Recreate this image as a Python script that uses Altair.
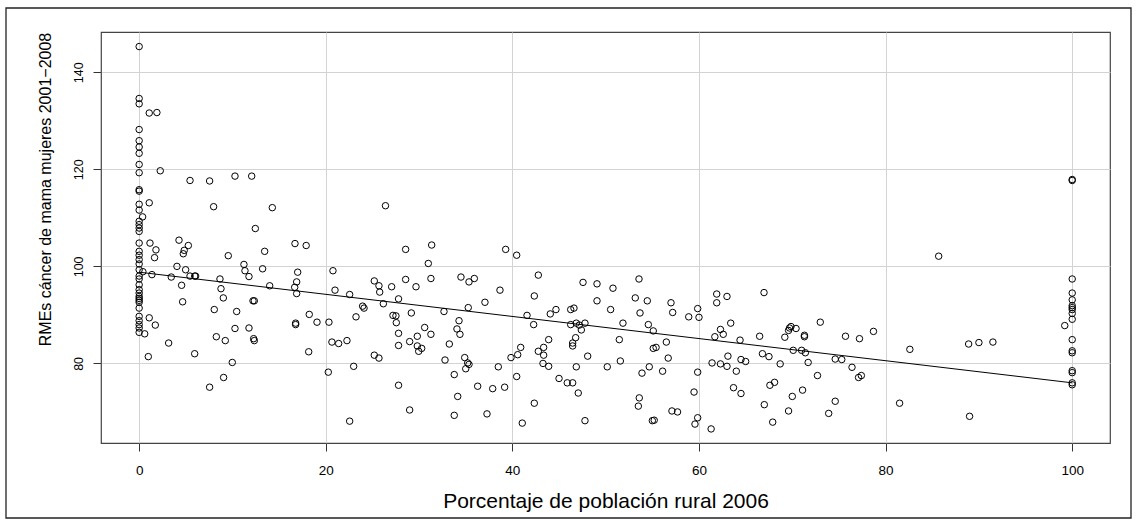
import altair as alt
import pandas as pd

# ---- data ----
# municipalities with 0 % rural population
rme_at_0 = [145.3, 134.6, 133.5, 128.2, 125.9, 124.6, 123.3, 121.0, 119.3, 115.8,
            115.5, 112.8, 111.6, 109.3, 108.6, 107.9, 107.2, 104.8, 103.1, 102.3,
            101.4, 100.5, 99.3, 98.0, 97.4, 96.2, 95.2, 94.5, 93.8, 93.4,
            93.0, 92.6, 91.4, 89.7, 88.8, 88.0, 87.3, 86.4]

# municipalities with 100 % rural population
rme_at_100 = [117.9, 117.7, 97.4, 94.5, 93.1, 91.9, 91.5, 91.1, 90.3, 89.1,
              84.9, 82.6, 82.2, 78.5, 78.1, 76.0, 75.6]

# all other municipalities
pct_mid = [0.37, 0.4, 0.59, 0.98, 1.08, 1.9, 1.08, 1.16, 1.8, 1.65, 1.37, 1.08, 1.73, 2.26, 3.16,
           3.44, 4.05, 4.27, 4.55, 4.66, 4.73, 4.83, 4.98, 5.27, 5.45, 5.45, 5.95, 6.05, 5.95,
           7.55, 7.55, 7.98, 8.05, 8.27, 8.66, 8.77, 9.02, 9.05, 9.23, 9.55, 9.98, 10.27, 10.27,
           10.45, 11.23, 11.34, 11.77, 11.77, 12.06, 12.2, 12.34, 12.27, 12.34, 12.45, 13.23,
           13.45, 13.99, 14.27, 16.67, 16.7, 16.77, 16.77, 16.88, 16.88, 16.99, 17.9, 18.17,
           18.23, 19.06, 20.27, 20.34, 20.66, 20.77, 20.99, 21.38, 22.27, 22.56, 22.56, 22.99,
           23.24, 23.95, 24.1, 25.2, 25.2, 25.7, 25.7, 25.78, 26.17, 26.4, 27.06, 27.2, 27.52,
           27.56, 27.8, 27.8, 27.8, 27.8,
           28.56, 31.35, 30.99, 39.28, 40.46, 28.56, 29.67, 31.27, 34.49, 35.35, 35.92, 38.67,
           37.06, 35.27, 32.67, 34.28, 34.06, 34.38, 31.27, 30.6, 29.17, 28.99, 29.81, 29.81,
           30.28, 29.96, 33.24, 32.78, 34.89, 35.21, 35.35, 35.0, 33.77, 34.14, 33.77, 36.28,
           37.89, 39.17, 37.28, 38.49, 28.99, 39.85, 40.57, 40.89, 40.46, 41.06, 42.35, 42.78,
           42.35, 41.57, 42.28, 42.78, 43.35, 43.35, 43.89, 44.06, 44.67, 43.28, 43.89, 45.0,
           45.88, 46.46, 47.06, 47.78, 46.25, 46.6, 46.25, 46.85, 47.17, 47.39, 47.78, 46.78,
           46.46, 46.46, 46.85, 48.07, 47.57, 49.07, 49.07, 50.53, 50.78, 51.85, 51.46, 50.17,
           51.57, 53.57, 53.17, 53.68, 54.46, 54.57, 55.1, 55.1, 55.4, 54.67, 53.89, 53.6, 53.5,
           55.0, 55.2, 56.1, 56.5, 56.7, 57.0, 57.18, 58.9, 57.1, 57.7, 59.57, 59.86, 59.47,
           59.86, 59.86, 60.0,
           85.69, 88.9, 90.0, 91.5, 82.6, 81.5, 89.0, 78.7, 77.2, 75.7, 73.0, 66.97, 61.9, 63.0,
           61.9, 61.7, 62.3, 62.6, 63.4, 64.4, 66.5, 69.2, 69.6, 69.86, 69.7, 70.4, 71.3, 71.3,
           70.1, 71.0, 71.4, 71.7, 66.8, 67.5, 68.7, 63.1, 64.5, 65.0, 61.4, 62.3, 63.0, 64.0,
           63.7, 64.5, 67.6, 68.1, 67.0, 67.9, 70.0, 71.1, 69.6, 72.7, 74.6, 75.3, 76.4, 77.1,
           77.4, 73.9, 74.6, 61.3, 99.2]

rme_mid = [110.2, 98.9, 86.1, 81.4, 131.6, 131.7, 113.1, 104.8, 103.4, 101.8, 98.3, 89.4, 87.9, 119.7, 84.2,
           97.8, 100.0, 105.4, 96.1, 92.7, 102.6, 103.3, 99.3, 104.3, 117.7, 98.0, 98.0, 98.0, 82.0,
           117.6, 75.1, 112.3, 91.1, 85.5, 97.4, 95.4, 93.5, 77.1, 84.7, 102.2, 80.2, 118.6, 87.2,
           90.7, 100.4, 99.1, 97.9, 87.3, 118.6, 92.9, 92.9, 85.1, 84.7, 107.8, 99.5,
           103.1, 96.0, 112.1, 95.7, 104.7, 88.3, 88.0, 96.8, 94.4, 98.8, 104.3, 82.4,
           90.1, 88.5, 78.2, 88.5, 84.4, 99.1, 95.1, 84.1, 84.7, 94.2, 68.1, 79.4,
           89.6, 91.8, 91.4, 97.0, 81.7, 96.0, 81.1, 94.7, 92.3, 112.5, 95.8, 89.9, 89.8,
           88.4, 93.3, 86.2, 83.7, 75.5,
           103.5, 104.4, 100.6, 103.5, 102.3, 97.3, 95.8, 97.5, 97.8, 96.8, 97.5, 95.1,
           92.6, 91.5, 90.7, 88.8, 87.1, 86.0, 86.0, 87.4, 90.4, 84.5, 85.6, 83.6,
           83.1, 82.5, 84.0, 80.7, 81.2, 80.1, 79.8, 78.9, 77.7, 73.2, 69.3, 75.3,
           74.8, 75.1, 69.6, 79.3, 70.4, 81.2, 81.8, 83.3, 77.3, 67.7, 71.8, 98.2,
           93.9, 89.9, 88.0, 82.5, 83.3, 81.7, 84.9, 90.2, 91.1, 80.0, 79.4, 76.9,
           76.0, 76.0, 73.9, 68.2, 91.1, 91.4, 88.0, 88.3, 87.9, 86.9, 88.3, 85.3,
           84.2, 83.6, 79.3, 81.5, 96.7, 96.4, 92.9, 91.1, 95.5, 88.3, 84.9, 79.3,
           80.5, 97.4, 93.5, 90.4, 92.9, 88.0, 86.7, 83.1, 83.3, 79.3, 78.0, 72.9, 71.2,
           68.2, 68.3, 78.4, 84.4, 81.1, 92.5, 90.5, 89.6, 70.2, 70.0, 67.5, 68.8, 74.1,
           78.2, 91.3, 89.5,
           102.1, 84.0, 84.3, 84.4, 82.9, 71.8, 69.1, 86.6, 85.1, 85.6, 88.5, 94.6, 94.3, 93.8,
           92.5, 85.5, 87.0, 86.0, 88.3, 84.8, 85.6, 85.4, 86.8, 87.6, 87.3, 87.2, 85.8, 85.5,
           82.7, 82.7, 82.2, 80.2, 82.0, 81.4, 79.9, 81.5, 80.8, 80.4, 80.1, 79.9, 79.4, 78.4,
           75.0, 73.8, 75.5, 76.1, 71.5, 67.9, 73.2, 74.5, 70.2, 77.5, 80.9, 80.8, 79.2, 77.1,
           77.5, 69.7, 72.2, 66.5, 87.8]

# fitted regression line (end points)
fit_pct = [0, 100]
fit_rme = [98.8, 76.0]

x_ticks = [0, 20, 40, 60, 80, 100]
y_ticks = [80, 100, 120, 140]

# ---- build tables ----
pct = [0.0] * len(rme_at_0) + pct_mid + [100.0] * len(rme_at_100)
rme = rme_at_0 + rme_mid + rme_at_100
pts = pd.DataFrame({"pct": pct, "rme": rme})
fit = pd.DataFrame({"pct": fit_pct, "rme": fit_rme})

FONT = "Liberation Sans"
W, H = 1009, 411

x_scale = alt.Scale(domain=[-4.09, 104.05], nice=False, zero=False)
y_scale = alt.Scale(domain=[63.6, 148.3], nice=False, zero=False)

x_axis = alt.Axis(
    values=x_ticks, grid=True, gridColor="#d3d3d3", gridWidth=1,
    domain=False, ticks=True, tickSize=8, tickColor="#333333", tickWidth=1,
    labelFont=FONT, labelFontSize=13.5, labelColor="black", labelPadding=12,
    labelAngle=0,
    title="Porcentaje de población rural 2006", titleFont=FONT, titleFontSize=21,
    titleFontWeight="normal", titleColor="black",
    titleX=W / 2, titleY=64, titleAlign="center", titleBaseline="alphabetic",
)
y_axis = alt.Axis(
    values=y_ticks, grid=True, gridColor="#d3d3d3", gridWidth=1,
    domain=False, ticks=True, tickSize=8, tickColor="#333333", tickWidth=1,
    labelFont=FONT, labelFontSize=12.5, labelColor="black", labelPadding=11,
    labelAngle=270, labelAlign="center", labelBaseline="alphabetic",
    title="RMEs cáncer de mama mujeres 2001\u22122008", titleFont=FONT, titleFontSize=16,
    titleFontWeight="normal", titleColor="black", titleAngle=270,
    titleX=-51, titleY=157, titleAlign="center", titleBaseline="alphabetic",
)

points = alt.Chart(pts).mark_point(
    shape="circle", filled=False, stroke="black", strokeWidth=1, size=42, opacity=1
).encode(
    x=alt.X("pct:Q", scale=x_scale, axis=x_axis),
    y=alt.Y("rme:Q", scale=y_scale, axis=y_axis),
)

line = alt.Chart(fit).mark_line(color="black", strokeWidth=1).encode(
    x=alt.X("pct:Q", scale=x_scale),
    y=alt.Y("rme:Q", scale=y_scale),
)

outer = alt.Chart(pd.DataFrame({"k": [0]})).mark_rect(
    fill="white", fillOpacity=0, stroke="#222222", strokeWidth=1.3
).encode(
    x=alt.value(-95), x2=alt.value(1030), y=alt.value(-24), y2=alt.value(486)
)

chart = alt.layer(points, line, outer).properties(
    width=W, height=H,
    autosize=alt.AutoSizeParams(type="none"),
    padding={"left": 101, "top": 32, "right": 28, "bottom": 82},
    background="white",
).configure_view(stroke="#444444", strokeWidth=1.2)

chart.save("out.html", embed_options={"renderer": "svg", "actions": False})
